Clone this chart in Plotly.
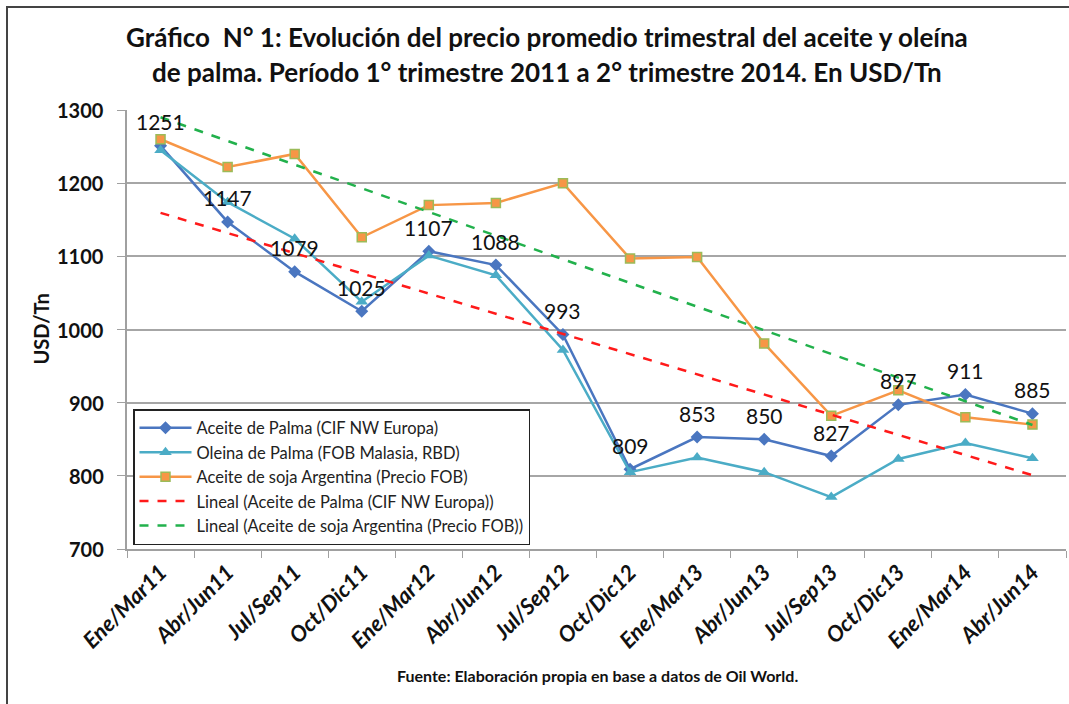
import numpy as np
import plotly.graph_objects as go

categories = ["Ene/Mar11", "Abr/Jun11", "Jul/Sep11", "Oct/Dic11", "Ene/Mar12", "Abr/Jun12",
              "Jul/Sep12", "Oct/Dic12", "Ene/Mar13", "Abr/Jun13", "Jul/Sep13", "Oct/Dic13",
              "Ene/Mar14", "Abr/Jun14"]
palma_cif = [1251, 1147, 1079, 1025, 1107, 1088, 993, 809, 853, 850, 827, 897, 911, 885]
oleina_fob = [1245, 1174, 1124, 1038, 1101, 1074, 972, 805, 825, 805, 771, 823, 845, 824]
soja_arg = [1260, 1222, 1240, 1126, 1170, 1173, 1200, 1097, 1099, 981, 882, 917, 880, 870]
y_ticks = [700, 800, 900, 1000, 1100, 1200, 1300]

title_l1 = "Gráfico  N° 1: Evolución del precio promedio trimestral del aceite y oleína"
title_l2 = "de palma. Período 1° trimestre 2011 a 2° trimestre 2014. En USD/Tn"
source = "Fuente: Elaboración propia en base a datos de Oil World."

# Linear trendlines (least squares, like the spreadsheet "Lineal" trendline)
xi = np.arange(1, len(categories) + 1)
p_palma = np.polyfit(xi, palma_cif, 1)
p_soja = np.polyfit(xi, soja_arg, 1)
trend_palma = np.polyval(p_palma, xi)
trend_soja = np.polyval(p_soja, xi)

FONT = "Lato"
fig = go.Figure()
fig.add_trace(go.Scatter(x=categories, y=palma_cif, mode="lines+markers",
                         name="Aceite de Palma (CIF NW Europa)",
                         line=dict(color="#4A76C0", width=2.5),
                         marker=dict(symbol="diamond", size=10, color="#4A76C0")))
fig.add_trace(go.Scatter(x=categories, y=oleina_fob, mode="lines+markers",
                         name="Oleina de Palma (FOB Malasia, RBD)",
                         line=dict(color="#4BACC6", width=2.5),
                         marker=dict(symbol="triangle-up", size=11, color="#4BACC6")))
fig.add_trace(go.Scatter(x=categories, y=soja_arg, mode="lines+markers",
                         name="Aceite de soja Argentina (Precio FOB)",
                         line=dict(color="#F79646", width=2.5),
                         marker=dict(symbol="square", size=9, color="#F79646",
                                     line=dict(color="#9BBB59", width=1.5))))
fig.add_trace(go.Scatter(x=categories, y=trend_palma, mode="lines",
                         name="Lineal (Aceite de Palma (CIF NW Europa))",
                         line=dict(color="#FF1A1A", width=2.5, dash="dash")))
fig.add_trace(go.Scatter(x=categories, y=trend_soja, mode="lines",
                         name="Lineal (Aceite de soja Argentina (Precio FOB))",
                         line=dict(color="#22B14C", width=2.5, dash="dash")))

annotations = []
for c, v in zip(categories, palma_cif):
    annotations.append(dict(x=c, y=v, xref="x", yref="y", text=str(v), showarrow=False,
                            yshift=24, yanchor="middle",
                            font=dict(family=FONT, size=21, color="#111111")))

# y tick labels (placed against the value axis, right-aligned)
for t in y_ticks:
    annotations.append(dict(x=(106 - 127) / 939, y=t, xref="paper", yref="y", text=str(t),
                            showarrow=False, xanchor="right", yanchor="middle",
                            font=dict(family=FONT, size=20, color="#111111", weight="bold")))

# titles and source
annotations.append(dict(x=(547 - 127) / 939, y=(549 - 37) / 439, xref="paper", yref="paper",
                        text=title_l1, showarrow=False, xanchor="center", yanchor="middle",
                        font=dict(family=FONT, size=26, color="#111111", weight="bold")))
annotations.append(dict(x=(547 - 127) / 939, y=(549 - 72) / 439, xref="paper", yref="paper",
                        text=title_l2, showarrow=False, xanchor="center", yanchor="middle",
                        font=dict(family=FONT, size=26, color="#111111", weight="bold")))
annotations.append(dict(x=(597 - 127) / 939, y=(549 - 675) / 439, xref="paper", yref="paper",
                        text=source, showarrow=False, xanchor="center", yanchor="middle",
                        font=dict(family=FONT, size=16, color="#111111", weight="bold")))
annotations.append(dict(x=(40 - 127) / 939, y=0.5, xref="paper", yref="paper", text="USD/Tn",
                        textangle=-90, showarrow=False, xanchor="center", yanchor="middle",
                        font=dict(family=FONT, size=20, color="#111111", weight="bold")))

fig.update_layout(
    width=1069, height=704,
    margin=dict(l=127, r=3, t=110, b=155),
    paper_bgcolor="white", plot_bgcolor="white",
    showlegend=True,
    legend=dict(x=6 / 939, y=(549 - 409) / 439, xanchor="left", yanchor="top",
                bgcolor="white", bordercolor="#222222", borderwidth=1.5,
                font=dict(family=FONT, size=16.5, color="#222222"),
                itemwidth=52, tracegroupgap=0),
    annotations=annotations,
    shapes=[dict(type="rect", xref="paper", yref="paper",
                 x0=(7 - 127) / 939, x1=(1085 - 127) / 939,
                 y0=(549 - 730) / 439, y1=(549 - 7) / 439,
                 line=dict(color="#444444", width=2), fillcolor="rgba(0,0,0,0)", layer="below")],
)
fig.update_xaxes(type="category", range=[-0.5, len(categories) - 0.5],
                 tickangle=-45, tickson="boundaries", ticks="outside", ticklen=7,
                 tickcolor="#A0A0A0", showline=True, linecolor="#A0A0A0", linewidth=1.5,
                 showgrid=False,
                 tickfont=dict(family=FONT, size=22, color="#111111", weight="bold", style="italic"))
fig.update_yaxes(range=[700, 1300], tickvals=y_ticks, ticks="outside", ticklen=8,
                 tickcolor="#A0A0A0", showline=True, linecolor="#A0A0A0", linewidth=1.5,
                 showgrid=True, gridcolor="#A6A6A6", gridwidth=1.5, zeroline=False,
                 showticklabels=False)

fig.write_html("out.html", config={"displayModeBar": False},
               post_script="document.body.style.margin='0px';")
